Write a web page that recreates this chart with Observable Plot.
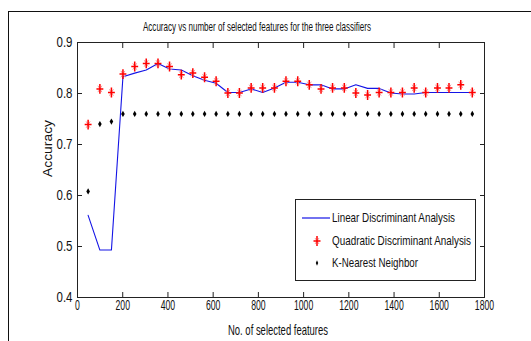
<!DOCTYPE html>
<html>
<head>
<meta charset="utf-8">
<script src="https://cdn.jsdelivr.net/npm/d3@7"></script>
<script src="https://cdn.jsdelivr.net/npm/@observablehq/plot@0.6"></script>
<style>
  html, body { margin: 0; padding: 0; background: #fff; }
  #wrap { position: relative; width: 531px; height: 341px; overflow: hidden; background: #fff;
          font-family: "Liberation Sans", Arial, sans-serif; }
  #outer { position: absolute; left: 8px; top: 11px; width: 700px; height: 500px;
           border-top: 1px solid #111; border-left: 1px solid #111; }
  #chart { position: absolute; left: 0; top: 0; }
  #legend { position: absolute; left: 295px; top: 199px; width: 179px; height: 80px;
            border: 1px solid #222; background: #fff; font-size: 13.5px; color: #111; }
  .row { position: absolute; left: 0; height: 16px; line-height: 16px; }
  .row svg { position: absolute; left: 5px; top: 0; }
  .row span { position: absolute; left: 36px; white-space: nowrap; transform-origin: 0 50%; }
</style>
</head>
<body>
<div id="wrap">
  <div id="outer"></div>
  <div id="chart"></div>
  <div id="legend"></div>
</div>
<script>
// Number of selected features (x positions)
const features = [47, 99, 150, 201, 253, 304, 356, 407, 459, 510, 562, 613, 665, 716, 768, 819, 871,
                  922, 974, 1025, 1077, 1128, 1180, 1231, 1283, 1334, 1386, 1437, 1489, 1540, 1592, 1643, 1695, 1746];
// Linear Discriminant Analysis
const lda = [0.561, 0.493, 0.493, 0.833, 0.840, 0.846, 0.859, 0.848, 0.846, 0.835, 0.826, 0.820, 0.802, 0.802, 0.809, 0.802, 0.811,
             0.822, 0.822, 0.817, 0.817, 0.809, 0.809, 0.817, 0.810, 0.810, 0.801, 0.799, 0.799, 0.802, 0.802, 0.802, 0.802, 0.802];
// Quadratic Discriminant Analysis
const qda = [0.739, 0.809, 0.802, 0.838, 0.853, 0.859, 0.859, 0.853, 0.837, 0.840, 0.832, 0.824, 0.801, 0.801, 0.811, 0.811, 0.811,
             0.824, 0.824, 0.817, 0.809, 0.811, 0.811, 0.801, 0.797, 0.802, 0.802, 0.802, 0.811, 0.802, 0.811, 0.811, 0.817, 0.802];
// K-Nearest Neighbor
const knn = [0.608, 0.740, 0.745, 0.760, 0.760, 0.760, 0.760, 0.760, 0.760, 0.760, 0.760, 0.760, 0.760, 0.760, 0.760, 0.760, 0.760,
             0.760, 0.760, 0.760, 0.760, 0.760, 0.760, 0.760, 0.760, 0.760, 0.760, 0.760, 0.760, 0.760, 0.760, 0.760, 0.760, 0.760];

const xTicks = [0, 200, 400, 600, 800, 1000, 1200, 1400, 1600, 1800];
const yTicks = [0.4, 0.5, 0.6, 0.7, 0.8, 0.9];
const seriesNames = ["Linear Discriminant Analysis", "Quadratic Discriminant Analysis", "K-Nearest Neighbor"];
const titleText = "Accuracy vs number of selected features for the three classifiers";
const xLabel = "No. of selected features";
const yLabel = "Accuracy";

const rows = features.map((f, i) => ({f, lda: lda[i], qda: qda[i], knn: knn[i]}));

const font = '"Liberation Sans", Arial, sans-serif';
const axisColor = "#222";

// MATLAB-like '*' marker: tall red plus with faint diagonals
const starPlus = {
  draw(ctx, size) {
    const r = Math.sqrt(size / Math.PI);
    ctx.moveTo(0, -r * 1.15); ctx.lineTo(0, r * 1.15);
    ctx.moveTo(-r * 0.8, 0); ctx.lineTo(r * 0.8, 0);
  }
};
const starX = {
  draw(ctx, size) {
    const r = Math.sqrt(size / Math.PI);
    ctx.moveTo(-r * 0.5, -r * 0.8); ctx.lineTo(r * 0.5, r * 0.8);
    ctx.moveTo(r * 0.5, -r * 0.8); ctx.lineTo(-r * 0.5, r * 0.8);
  }
};

const chart = Plot.plot({
  width: 531,
  height: 341,
  marginLeft: 77,
  marginRight: 47,
  marginTop: 42,
  marginBottom: 44,
  style: {fontFamily: font, fontSize: "12px", color: "#111", background: "transparent", overflow: "visible"},
  x: {domain: [0, 1800]},
  y: {domain: [0.4, 0.9]},
  marks: [
    // inward ticks on all four sides
    Plot.axisX(xTicks, {anchor: "bottom", tickSize: -5, text: null, stroke: axisColor, label: null}),
    Plot.axisX(xTicks, {anchor: "top", tickSize: -5, text: null, stroke: axisColor, label: null}),
    Plot.axisY(yTicks, {anchor: "left", tickSize: -5, text: null, stroke: axisColor, label: null}),
    Plot.axisY(yTicks, {anchor: "right", tickSize: -5, text: null, stroke: axisColor, label: null}),
    // tick labels
    Plot.axisX(xTicks, {anchor: "bottom", tickSize: 0, tickPadding: 3, label: null, tickFormat: d => String(d), fontSize: 14}),
    Plot.axisY(yTicks, {anchor: "left", tickSize: 0, tickPadding: 5, label: null, tickFormat: d => d.toFixed(1), fontSize: 14}),
    Plot.frame({stroke: axisColor, strokeWidth: 1}),
    // data
    Plot.line(rows, {x: "f", y: "lda", stroke: "#1414e6", strokeWidth: 1.1}),
    Plot.dot(rows, {x: "f", y: "qda", symbol: starX, r: 4, stroke: "#f39a9a", strokeWidth: 1}),
    Plot.dot(rows, {x: "f", y: "qda", symbol: starPlus, r: 4.3, stroke: "#ff0000", strokeWidth: 1.5}),
    Plot.dot(rows, {x: "f", y: "knn", symbol: "diamond", r: 1.9, fill: "#000", stroke: null}),
    // title and axis labels
    Plot.text([titleText], {frameAnchor: "top", dx: -24, dy: -21, fontSize: 13.5, fill: "#111"}),
    Plot.text([xLabel], {frameAnchor: "bottom", dx: -3, dy: 37, fontSize: 14.5, fill: "#111"}),
    Plot.text([yLabel], {frameAnchor: "left", dx: -30, dy: 7, rotate: -90, fontSize: 13.5, fill: "#111"})
  ]
});
document.getElementById("chart").appendChild(chart);

// Condense text horizontally to mimic the narrow MATLAB screen font
function squeeze(el, target) {
  el.setAttribute("textLength", target);
  el.setAttribute("lengthAdjust", "spacingAndGlyphs");
}
chart.querySelectorAll('g[aria-label="x-axis tick label"] text').forEach(t => squeeze(t, t.getComputedTextLength() * 0.62));
chart.querySelectorAll('g[aria-label="y-axis tick label"] text').forEach(t => squeeze(t, t.getComputedTextLength() * 0.82));
const texts = chart.querySelectorAll('g[aria-label="text"] text');
squeeze(texts[0], 228);
squeeze(texts[1], 100);
squeeze(texts[2], 57);

// legend (inside plot area, MATLAB style)
const legend = document.getElementById("legend");
const swatches = [
  '<svg width="30" height="16"><line x1="1" x2="29" y1="8" y2="8" stroke="#1414e6" stroke-width="1.2"/></svg>',
  '<svg width="30" height="16"><line x1="14" x2="18" y1="5" y2="11" stroke="#f39a9a"/><line x1="18" x2="14" y1="5" y2="11" stroke="#f39a9a"/><line x1="16" x2="16" y1="3" y2="13" stroke="#f00" stroke-width="1.5"/><line x1="12.5" x2="19.5" y1="8" y2="8" stroke="#f00" stroke-width="1.5"/></svg>',
  '<svg width="30" height="16"><path d="M16,5.2 L17.2,8 L16,10.8 L14.8,8 Z" fill="#000"/></svg>'
];
const tops = [10, 33, 55];
const widths = [123, 139, 86];
seriesNames.forEach((name, i) => {
  const r = document.createElement("div");
  r.className = "row";
  r.style.top = tops[i] + "px";
  r.innerHTML = swatches[i] + "<span>" + name + "</span>";
  legend.appendChild(r);
  const sp = r.querySelector("span");
  const w = sp.getBoundingClientRect().width;
  sp.style.transform = "scaleX(" + (widths[i] / w) + ")";
});
</script>
</body>
</html>
